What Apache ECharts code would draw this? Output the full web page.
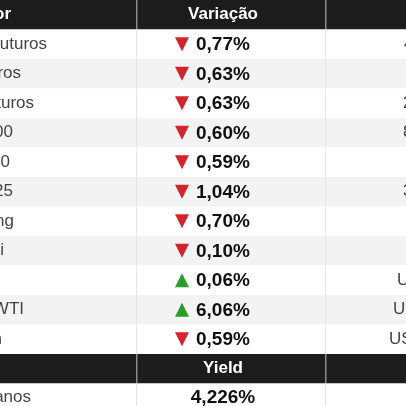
<!DOCTYPE html>
<html><head><meta charset="utf-8">
<script src="https://cdn.jsdelivr.net/npm/echarts@6/dist/echarts.min.js"></script>
<style>html,body{margin:0;padding:0;background:#fff}#c{width:406px;height:406px}</style>
</head><body><div id="c"></div>
<script>
var ativos = ["Dow Jones Futuros", "S&P 500 Futuros", "Nasdaq Futuros", "FTSE 100", "CAC 40",
  "Nikkei 225", "Hang Seng", "Shanghai", "Ouro", "Petróleo WTI", "Bitcoin"];
var variacao = [-0.77, -0.63, -0.63, -0.60, -0.59, -1.04, -0.70, -0.10, 0.06, 6.06, -0.59];
var cotacao = ["44.512", "5.948", "21.320", "8.470", "7.812", "39.150", "19.760", "3.264",
  "US$ 2.650", "US$ 71,20", "US$ 96.400"];
var titulo = "Treasury 10 anos";
var yieldValor = 4.226;

var fmt = function (v, d) { return Math.abs(v).toFixed(d).replace(".", ",") + "%"; };
var rowH = 29.5, topY = 29.5, g = [];
var font = "Helvetica, Arial, 'Liberation Sans', sans-serif";

function header(y, label) {
  g.push({type: "rect", shape: {x: 0, y: y, width: 406, height: rowH}, style: {fill: "#1c1c1c"}});
  [136, 325].forEach(function (x) {
    g.push({type: "rect", shape: {x: x, y: y, width: 1.5, height: rowH}, style: {fill: "#8a8a8a"}});
  });
  g.push({type: "text", x: 223, y: y + rowH / 2, style: {text: label, fill: "#fff", font: "bold 17px " + font, align: "center", verticalAlign: "middle"}});
}
function bodyRow(y, gray) {
  g.push({type: "rect", shape: {x: 0, y: y, width: 406, height: rowH}, style: {fill: gray ? "#f3f3f3" : "#fff"}});
  [136, 325].forEach(function (x) {
    g.push({type: "rect", shape: {x: x, y: y, width: 1, height: rowH}, style: {fill: "#e6e6e6"}});
  });
}

header(0, "Variação");
g.push({type: "text", x: 11, y: rowH / 2, style: {text: "Indicador", fill: "#fff", font: "bold 17px " + font, align: "right", verticalAlign: "middle"}});
var ends = [47, 21, 34, 13, 10, 13, 14, 4, -3, 24, 2];
var starts = [404, 410, 403, 403, 410, 403, 410, 410, 397, 393, 389];
ativos.forEach(function (a, i) {
  var y = topY + i * rowH, cy = y + rowH / 2;
  bodyRow(y, i % 2 === 1);
  g.push({type: "text", x: ends[i], y: cy, style: {text: a, fill: "#444", font: "17px " + font, align: "right", verticalAlign: "middle"}});
  var up = variacao[i] > 0;
  g.push({type: "polygon", shape: {points: up ? [[175, cy + 7], [189, cy + 7], [182, cy - 7]] : [[175, cy - 7], [189, cy - 7], [182, cy + 7]]},
    style: {fill: up ? "#2d9a2d" : "#d3232c"}});
  g.push({type: "text", x: 196, y: cy + 1, style: {text: fmt(variacao[i], 2), fill: "#111", font: "bold 19px " + font, align: "left", verticalAlign: "middle"}});
  g.push({type: "text", x: starts[i], y: cy, style: {text: cotacao[i], fill: "#444", font: "17px " + font, align: "left", verticalAlign: "middle"}});
});
var yh = topY + ativos.length * rowH;
header(yh, "Yield");
var ly = yh + rowH;
bodyRow(ly, false);
g.push({type: "text", x: 31, y: ly + 14, style: {text: titulo, fill: "#444", font: "17px " + font, align: "right", verticalAlign: "middle"}});
g.push({type: "text", x: 223, y: ly + 14, style: {text: fmt(yieldValor, 3), fill: "#111", font: "bold 19px " + font, align: "center", verticalAlign: "middle"}});

echarts.init(document.getElementById("c")).setOption({animation: false, graphic: g});
</script></body></html>
